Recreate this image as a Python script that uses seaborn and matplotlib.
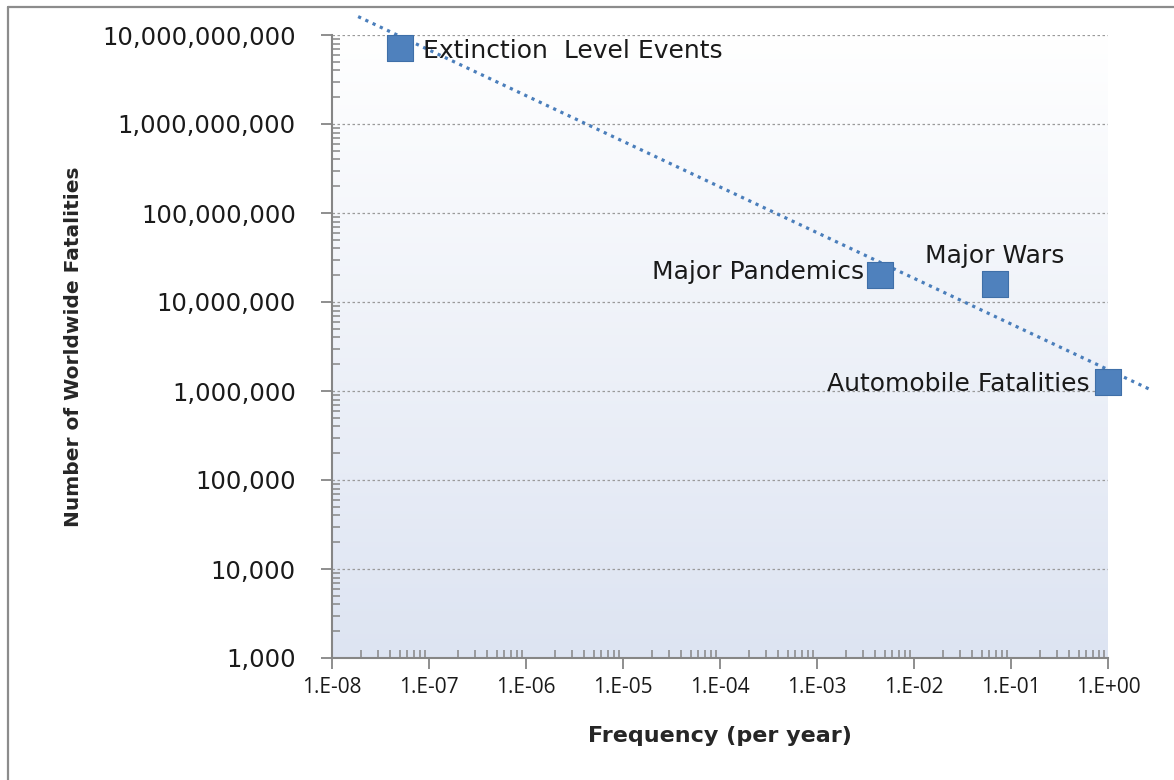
import numpy as np
import matplotlib
matplotlib.use("Agg")
import matplotlib.pyplot as plt
from matplotlib.lines import Line2D
from matplotlib.ticker import FixedLocator, LogLocator, FuncFormatter, NullFormatter
import pandas as pd
import seaborn as sns

# datos
eventos = ["Extinction  Level Events", "Major Pandemics", "Major Wars", "Automobile Fatalities"]
frecuencia = [5e-8, 4.5e-3, 6.8e-2, 1.0]          # por anio
muertes = [7.1e9, 2.0e7, 1.6e7, 1.25e6]
tendencia_x = [1.86e-8, 2.77]
tendencia_y = [1.61e10, 1.03e6]

df = pd.DataFrame({"evento": eventos, "frecuencia": frecuencia, "muertes": muertes})

sns.set_style("white")
plt.rcParams["font.family"] = ["DejaVu Sans"]

fig = plt.figure(figsize=(11.74, 7.80), dpi=100)
ax = fig.add_axes([332 / 1174, 1 - 658 / 780, (1108 - 332) / 1174, (658 - 35) / 780])

# fondo degradado del area de trazado
grad = np.linspace(0, 1, 256).reshape(-1, 1)
cmap = matplotlib.colors.LinearSegmentedColormap.from_list("fondo", ["#dde4f2", "#ffffff"])
ax.imshow(grad, aspect="auto", cmap=cmap, extent=[0, 1, 0, 1], transform=ax.transAxes,
          origin="lower", zorder=0)

ax.set_xscale("log")
ax.set_yscale("log")
ax.set_xlim(1e-8, 1e0)
ax.set_ylim(1e3, 1e10)

ax.plot(tendencia_x, tendencia_y, color="#4a7ebb", lw=2.3,
        linestyle=(0, (1, 1.5)), clip_on=False, zorder=3)

sns.scatterplot(data=df, x="frecuencia", y="muertes", marker="s", s=370,
                color="#4f81bd", edgecolor="#3f6fa8", linewidth=0.8, ax=ax, zorder=4, clip_on=False)

# etiquetas de los puntos
desplaz = [(17, -2, "left"), (-12, 2, "right"), (0, 20, "center"), (-13, -1, "right")]
for ev, fx, my, (dx, dy, ha) in zip(eventos, frecuencia, muertes, desplaz):
    ax.annotate(ev, (fx, my), xytext=(dx, dy), textcoords="offset points",
                ha=ha, va="center", fontsize=18, color="#1a1a1a", zorder=5)

# rejilla horizontal punteada
for e in range(3, 11):
    ax.axhline(10 ** e, color="#9a9a9a", lw=0.9, linestyle=(0, (2, 2)), zorder=1)

ax.yaxis.set_major_locator(FixedLocator([10 ** e for e in range(3, 11)]))
ax.xaxis.set_major_locator(FixedLocator([10.0 ** e for e in range(-8, 1)]))
ax.yaxis.set_minor_locator(LogLocator(base=10, subs=np.arange(2, 10), numticks=20))
ax.xaxis.set_minor_locator(LogLocator(base=10, subs=np.arange(2, 10), numticks=20))
ax.yaxis.set_minor_formatter(NullFormatter())
ax.xaxis.set_minor_formatter(NullFormatter())
ax.yaxis.set_major_formatter(FuncFormatter(lambda v, p: f"{v:,.0f}"))
ax.xaxis.set_major_formatter(FuncFormatter(lambda v, p: f"1.E{int(round(np.log10(v))):+03d}"))

ax.tick_params(which="major", direction="out", length=8, width=1.3, color="#868686",
               labelcolor="#1a1a1a", pad=6, left=True, bottom=True)
ax.tick_params(axis="y", which="major", pad=18)
ax.tick_params(which="minor", direction="in", length=6, width=1.1, color="#868686",
               left=True, bottom=True)
for t in ax.get_yticklabels():
    t.set_fontsize(17.5)
for t in ax.get_xticklabels():
    t.set_fontfamily(["Open Sans", "DejaVu Sans"])
    t.set_fontsize(15)

for lado in ["top", "right"]:
    ax.spines[lado].set_visible(False)
for lado in ["left", "bottom"]:
    ax.spines[lado].set_color("#868686")
    ax.spines[lado].set_linewidth(1.5)

ax.set_xlabel("Frequency (per year)", fontsize=16, fontweight="bold", labelpad=20)
ax.set_ylabel("Number of Worldwide Fatalities", fontsize=14.5, fontweight="bold", labelpad=14)

# borde del grafico (solo izquierda y arriba, captura recortada)
fig.add_artist(Line2D([8 / 1174, 8 / 1174], [0, 1 - 7 / 780], color="#8c8c8c", lw=1.6))
fig.add_artist(Line2D([8 / 1174, 1], [1 - 7 / 780, 1 - 7 / 780], color="#8c8c8c", lw=1.6))

fig.savefig("out.png", dpi=100)
